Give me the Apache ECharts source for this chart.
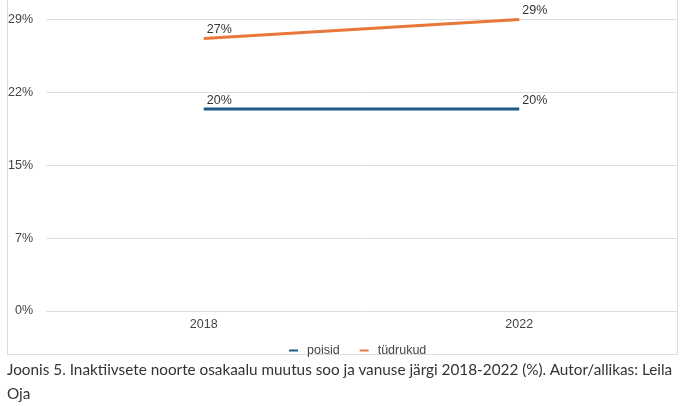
<!DOCTYPE html>
<html>
<head>
<meta charset="utf-8">
<script src="https://cdn.jsdelivr.net/npm/echarts@6/dist/echarts.min.js"></script>
<style>
  html, body { margin: 0; padding: 0; background: #fff; width: 683px; height: 406px; overflow: hidden; }
  #box { position: absolute; left: 7px; top: -2px; width: 671px; height: 357px; border: 1px solid #dcdcdc; box-sizing: border-box; }
  #chart { position: absolute; left: 0; top: 0; width: 683px; height: 406px; }
  #caption { position: absolute; left: 7px; top: 357px; width: 676px; font-family: Lato, "Open Sans", sans-serif; font-size: 15.3px; line-height: 24px; color: #333; }
</style>
</head>
<body>
<div id="box"></div>
<div id="chart"></div>
<div id="caption">Joonis 5. Inaktiivsete noorte osakaalu muutus soo ja vanuse järgi 2018-2022 (%). Autor/allikas: Leila Oja</div>
<script>
const categories = ['2018', '2022'];
const seriesNames = ['poisid', 'tüdrukud'];
const poisid = [20.3, 20.3];
const tudrukud = [27.4, 29.3];
const yMin = 0, yMax = 29.3, yInterval = 7.325;

const chart = echarts.init(document.getElementById('chart'), null, { renderer: 'canvas' });
const font = '"Liberation Sans", Arial, sans-serif';
const labelCfg = {
  show: true, position: 'top', align: 'left', offset: [3, 3],
  color: '#333', fontSize: 12.5, fontFamily: font,
  formatter: p => Math.round(p.value) + '%'
};
chart.setOption({
  animation: false,
  color: ['#1b5b84', '#e8773a'],
  grid: { left: 46, right: 6, top: 19.5, bottom: 95, containLabel: false },
  legend: {
    left: 284, top: 339,
    icon: 'rect', itemWidth: 9, itemHeight: 2, itemGap: 20,
    textStyle: { color: '#444', fontSize: 12.5, fontFamily: font, padding: [0, 0, 0, 4] },
    data: seriesNames
  },
  xAxis: {
    type: 'category', data: categories, boundaryGap: true,
    axisLine: { show: false }, axisTick: { show: false },
    axisLabel: { color: '#444', fontSize: 12.5, fontFamily: font, margin: 7 }
  },
  yAxis: {
    type: 'value', min: yMin, max: yMax, interval: yInterval,
    axisLine: { show: false }, axisTick: { show: false },
    axisLabel: { color: '#444', fontSize: 12.5, fontFamily: font, margin: 13, formatter: v => Math.round(v) + '%' },
    splitLine: { lineStyle: { color: '#dedede', width: 1 } }
  },
  series: [
    { name: seriesNames[0], type: 'line', data: poisid, showSymbol: true, symbol: 'circle', symbolSize: 0.1, lineStyle: { width: 3 }, label: labelCfg },
    { name: seriesNames[1], type: 'line', data: tudrukud, showSymbol: true, symbol: 'circle', symbolSize: 0.1, lineStyle: { width: 3 }, label: labelCfg }
  ]
});
</script>
</body>
</html>
